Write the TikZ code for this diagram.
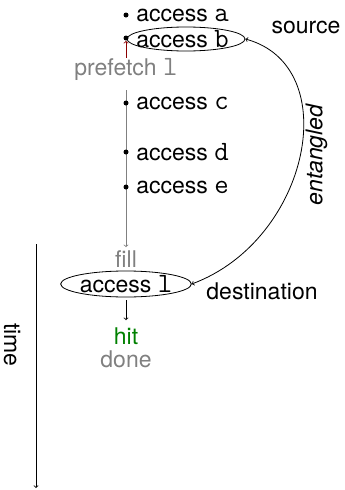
\documentclass[tikz,border=0pt]{standalone}
\usepackage{fontspec}
\setmainfont{TeX Gyre Heros}
\setmonofont{Latin Modern Mono}[Scale=MatchLowercase]
\usetikzlibrary{shapes.geometric}
\definecolor{dimgray}{RGB}{128,128,128}
\definecolor{hitgreen}{RGB}{0,128,0}
\definecolor{darkred}{RGB}{139,0,0}
\begin{document}
\begin{tikzpicture}[x=1pt,y=-1pt,
  font=\fontsize{23}{27}\selectfont,
  line width=0.8pt,
  lbl/.style={inner sep=0pt, anchor=west},
  ctr/.style={inner sep=0pt},
  dot/.style={circle, fill=black, inner sep=0pt, minimum size=5pt},
  oval/.style={ellipse, draw, inner sep=0pt}]
\useasboundingbox (0,0) rectangle (345,490);

% accesses
\node[dot] (da) at (126,15) {};
\node[lbl] (ta) at (136,15) {access \texttt{a}};
\node[oval, minimum width=118pt, minimum height=24pt] (eb) at (186,39) {};
\node[dot] (db) at (126,38) {};
\node[lbl] (tb) at (136,39) {access \texttt{b}};

\node[ctr, text=dimgray] (pf) at (126,69) {prefetch \texttt{l}};
\draw[->, darkred] (pf.north) -- (db.south);

\coordinate (gtop) at (126,90);
\node[ctr, text=dimgray] (fill) at (126,259) {fill};
\draw[->, dimgray, shorten >=3pt] (gtop) -- (fill.north);

\node[dot] (dc) at (126,103) {};
\node[lbl] (tc) at (136,103) {access \texttt{c}};
\node[dot] (dd) at (126,152) {};
\node[lbl] (td) at (136,152) {access \texttt{d}};
\node[dot] (de) at (126,187) {};
\node[lbl] (te) at (136,187) {access \texttt{e}};

\node[oval, minimum width=122pt, minimum height=26pt] (el) at (126,284) {access \texttt{l}};
\node[ctr, text=hitgreen] (hit) at (126,336) {hit};
\node[ctr, text=dimgray] (done) at (126,359) {done};
\draw[->, shorten <=3pt, shorten >=7pt] (el.south) -- (hit.north);

\node[ctr] (src) at (306,27) {source};
\node[ctr] (dst) at (262,291) {destination};

\draw[<->] (el.east) .. controls (310,240) and (345,66) .. (eb.east)
  node[pos=0.5, right=5pt, inner sep=0pt, rotate=90, anchor=north, font=\fontsize{23}{27}\selectfont\itshape] (ent) {entangled};

% time axis
\coordinate (t0) at (36,244);
\coordinate (t1) at (36,488);
\draw[->] (t0) -- (t1);
\node[ctr, rotate=-90] (time) at (12,345) {time};
\end{tikzpicture}
\end{document}
